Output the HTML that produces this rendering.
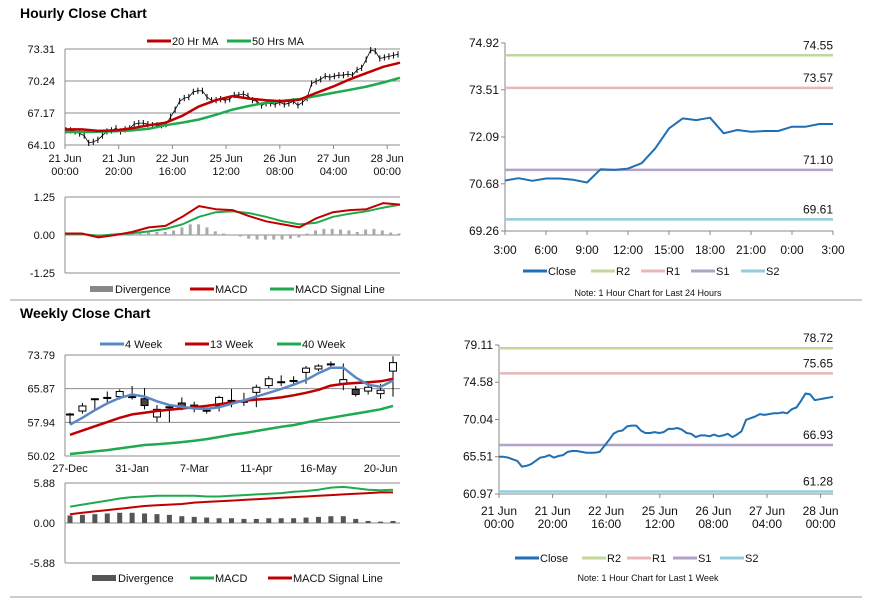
<!DOCTYPE html>
<html><head><meta charset="utf-8"><style>
body{margin:0;background:#fff}
svg{display:block;font-family:"Liberation Sans",sans-serif}
</style></head><body>
<svg id="s" width="873" height="601" viewBox="0 0 873 601">
<text x="20" y="18" font-size="14" font-weight="bold">Hourly Close Chart</text>
<text x="20" y="318" font-size="14" font-weight="bold">Weekly Close Chart</text>
<line x1="10" y1="300" x2="862" y2="300" stroke="#999"/>
<line x1="10" y1="597" x2="862" y2="597" stroke="#999"/>
</svg>
<script>
// ---------- data ----------
const hourlyClose=[65.5,65.5,65.4,65.2,65.0,64.3,64.4,64.6,65.0,65.4,65.5,65.7,65.4,65.6,65.7,66.1,66.2,66.2,66.1,66.0,66.0,66.0,66.1,66.8,67.5,68.3,68.6,68.7,69.2,69.3,69.3,68.7,68.4,68.4,68.5,68.4,68.5,68.9,68.9,69.0,68.8,68.4,68.3,67.9,68.1,68.1,68.0,68.2,68.0,68.1,68.3,67.9,68.2,68.6,70.0,70.2,70.4,70.7,70.6,70.7,70.8,70.8,70.9,70.8,71.3,71.5,72.3,73.2,73.1,72.4,72.5,72.6,72.7,72.8];
const ma20=[65.6,65.6,65.45,65.5,65.7,66.0,66.24,66.9,67.8,68.4,68.79,68.55,68.4,68.3,68.45,69.1,69.7,70.4,71.0,71.6,72.0];
const ma50=[65.35,65.35,65.38,65.42,65.5,65.65,66.0,66.25,66.55,67.0,67.5,67.85,68.15,68.35,68.5,68.8,69.1,69.4,69.7,70.1,70.55];
const hMacd=[0.05,0.05,-0.08,0.0,0.1,0.25,0.3,0.6,0.95,0.85,0.82,0.62,0.45,0.35,0.25,0.55,0.75,0.82,0.85,1.05,1.0];
const hSignal=[0.02,0.03,-0.02,0.02,0.06,0.12,0.2,0.35,0.6,0.75,0.78,0.72,0.6,0.45,0.35,0.4,0.6,0.7,0.78,0.9,1.0];
const hDiv=[0,0,0.02,0,-0.03,-0.02,0,0.02,0.04,0.06,0.08,0.1,0.1,0.15,0.25,0.35,0.35,0.25,0.12,0.05,0.02,-0.05,-0.12,-0.15,-0.15,-0.15,-0.15,-0.12,-0.08,0.05,0.15,0.2,0.2,0.18,0.15,0.1,0.18,0.2,0.15,0.08,0.05];
const hourlyTicks=[["21 Jun","00:00"],["21 Jun","20:00"],["22 Jun","16:00"],["25 Jun","12:00"],["26 Jun","08:00"],["27 Jun","04:00"],["28 Jun","00:00"]];
const dayClose=[70.78,70.85,70.77,70.84,70.84,70.8,70.72,71.12,71.1,71.14,71.3,71.75,72.35,72.65,72.6,72.67,72.2,72.3,72.25,72.27,72.27,72.4,72.4,72.48,72.48];
const dayTicks=["3:00","6:00","9:00","12:00","15:00","18:00","21:00","0:00","3:00"];
const dayLevels=[74.55,73.57,71.10,69.61];
const weekLevels=[78.72,75.65,66.93,61.28];
const wOpen=[59.8,60.6,63.5,63.8,64.0,64.0,63.5,59.2,61.6,62.5,62.0,60.8,61.8,63.1,62.9,65.0,66.6,67.5,67.8,69.7,70.5,71.7,67.0,65.7,65.3,64.7,70.0];
const wClose=[59.9,61.8,63.5,63.8,65.2,64.0,61.9,61.0,61.6,61.5,61.3,60.8,63.8,63.1,62.9,66.2,68.2,67.5,67.8,70.7,71.2,71.7,68.0,64.5,66.2,65.5,72.0];
const wHigh=[60.2,62.5,63.5,65.2,65.7,66.5,66.0,62.0,62.0,63.8,62.8,61.5,64.2,65.8,64.9,66.8,68.8,69.0,68.8,71.2,71.6,72.3,71.8,66.5,66.8,67.0,73.5];
const wLow=[57.5,60.0,61.0,62.7,63.3,63.3,61.0,58.0,58.0,60.8,60.3,60.0,60.5,61.5,61.8,61.5,66.0,66.5,66.5,67.0,70.0,71.0,65.5,64.0,64.5,63.5,64.0];
const wk4=[57.4,59.0,60.8,62.4,63.7,64.5,64.0,62.9,62.0,61.6,61.2,61.1,61.5,62.3,63.1,64.0,64.9,65.8,66.8,67.9,69.5,70.8,70.8,68.5,66.8,66.3,67.8];
const wk13=[55.0,56.0,57.0,58.0,59.0,59.8,60.2,60.6,60.9,61.2,61.5,61.8,62.2,62.6,63.0,63.3,63.5,63.8,64.3,64.9,65.6,66.6,67.0,67.2,67.4,67.6,68.2];
const wk40=[50.5,50.8,51.1,51.4,51.8,52.2,52.6,52.8,53.0,53.3,53.6,54.0,54.5,55.0,55.4,55.9,56.4,56.9,57.3,57.9,58.5,59.0,59.5,60.0,60.5,61.0,61.8];
const wMacd=[2.4,2.7,3.0,3.3,3.6,3.8,3.9,4.0,4.0,4.0,4.0,3.9,3.9,4.0,4.1,4.2,4.3,4.4,4.6,4.7,4.9,5.2,5.3,5.1,4.9,4.8,4.9];
const wSignal=[1.3,1.5,1.7,1.9,2.1,2.3,2.5,2.6,2.7,2.8,3.0,3.1,3.2,3.3,3.4,3.5,3.6,3.7,3.8,3.9,4.0,4.1,4.2,4.3,4.4,4.5,4.5];
const wDiv=[1.1,1.2,1.3,1.4,1.5,1.5,1.4,1.3,1.2,1.0,0.9,0.8,0.7,0.7,0.6,0.6,0.7,0.7,0.7,0.8,0.9,1.0,1.0,0.6,0.3,0.2,0.3];
const weekTicks=[[0,"27-Dec"],[5,"31-Jan"],[10,"7-Mar"],[15,"11-Apr"],[20,"16-May"],[25,"20-Jun"]];

const S=document.getElementById('s');
const NS='http://www.w3.org/2000/svg';
function mk(tag,at,txt){const e=document.createElementNS(NS,tag);for(const k in at)e.setAttribute(k,at[k]);if(txt!==undefined)e.textContent=txt;S.appendChild(e);return e;}
function lin(d0,d1,r0,r1){return v=>r0+(v-d0)/(d1-d0)*(r1-r0);}
function poly(arr,X,Y,col,w,name){const p=arr.map((v,i)=>X(i).toFixed(1)+','+Y(v).toFixed(1)).join(' ');const e=mk('polyline',{points:p,fill:'none',stroke:col,'stroke-width':w,'stroke-linejoin':'round'});

return e;}
function txt(x,y,s,anchor,size,name){const e=mk('text',{x:x,y:y,'font-size':size||11,'text-anchor':anchor||'start',fill:'#111'},s);

return e;}
function ln(x1,y1,x2,y2,col,w,name){const e=mk('line',{x1:x1,y1:y1,x2:x2,y2:y2,stroke:col,'stroke-width':w||1});

return e;}
function legend(items,y){items.forEach(it=>{ln(it[0],y,it[0]+24,y,it[2],it[3]||3,'legend-swatch');txt(it[0]+25,y+4,it[1],'start',11,'legend-entry');});}
const RED='#c00000',GRN='#1faa4f',BLUE='#5b87c5',DBLUE='#1f6fb4';

// ---------- hourly candles ----------
(function(){
 const X0=65,X1=400,Y=lin(64.10,73.31,145,49);
 [73.31,70.24,67.17,64.10].forEach(v=>{ln(X0,Y(v),X1,Y(v),'#8c8c8c',1,'gridline');txt(X0-10,Y(v)+4,v.toFixed(2),'end',11,'y-tick-label');});
 ln(X0,49,X0,145,'#8c8c8c',1,'y-axis');
 const X=lin(0,hourlyClose.length-1,X0+1,X1-2);
 hourlyTicks.forEach((t,i)=>{const x=X0+i*53.7;ln(x,145,x,149,'#8c8c8c',1,'x-tick');txt(x,162,t[0],'middle',11,'x-tick-label');txt(x,175,t[1],'middle',11,'x-tick-label');});
 hourlyClose.forEach((v,i)=>{const x=X(i);ln(x,Y(v+0.3),x,Y(v-0.3),'#000',1,'candle');});
 poly(hourlyClose,X,Y,'#000',0.8,'close-line');
 const XM=lin(0,ma20.length-1,X0,X1);
 poly(ma50,XM,Y,GRN,2.5,'ma50-line');poly(ma20,XM,Y,RED,2.5,'ma20-line');
 legend([[147,'20 Hr MA',RED],[227,'50 Hrs MA',GRN]],41);
 // MACD
 const YM=lin(-1.25,1.25,273,197);
 [1.25,0,-1.25].forEach(v=>{ln(X0,YM(v),X1,YM(v),'#8c8c8c',1,'gridline');txt(X0-10,YM(v)+4,v.toFixed(2),'end',11,'y-tick-label');});
 ln(X0,197,X0,273,'#8c8c8c',1,'y-axis');
 const XD=lin(0,hDiv.length-1,X0,X1-1);
 hDiv.forEach((d,i)=>{const x=XD(i);const b=mk('rect',{x:x-1.5,y:Math.min(YM(d),YM(0)),width:3,height:Math.max(Math.abs(YM(d)-YM(0)),0.5),fill:'#aaa'});
 
 });
 poly(hSignal,XM,YM,GRN,2,'macd-signal-line');poly(hMacd,XM,YM,RED,2,'macd-line');
 const lb=mk('rect',{x:90,y:286,width:23,height:6,fill:'#888'});
 
 
 txt(115,293,'Divergence','start',11,'legend-entry');
 legend([[190,'MACD',RED],[270,'MACD Signal Line',GRN]],289);
})();

// ---------- levels chart helper ----------
function levelChart(o){
 const Y=lin(o.min,o.max,o.yb,o.yt);
 ln(o.x0,o.yt,o.x0,o.yb,'#888',1,'y-axis');ln(o.x0,o.yb,o.x1,o.yb,'#888',1,'x-axis');
 o.ticks.forEach(v=>{ln(o.x0-4,Y(v),o.x0,Y(v),'#888',1,'y-tick');txt(o.x0-6,Y(v)+4,v.toFixed(2),'end',12,'y-tick-label');});
 const cols=['#c3d69b','#e6b9b8','#b3a2c7','#93cddd'];
 o.levels.forEach((v,i)=>{ln(o.x0,Y(v),o.x1,Y(v),cols[i],2.5,'level-line');txt(o.x1,Y(v)-6,v.toFixed(2),'end',12,'level-label');});
 const X=lin(0,o.data.length-1,o.x0,o.x1);
 poly(o.data,X,Y,DBLUE,2,'close-line');
 return {Y:Y,cols:cols};
}
// right top
(function(){
 const r=levelChart({x0:505,x1:833,yt:43,yb:231,min:69.26,max:74.92,ticks:[74.92,73.51,72.09,70.68,69.26],levels:dayLevels,data:dayClose});
 dayTicks.forEach((t,i)=>{const x=505+i*41;ln(x,231,x,235,'#888',1,'x-tick');txt(x,254,t,'middle',12,'x-tick-label');});
 legend([[523,'Close',DBLUE],[591,'R2',r.cols[0]],[641,'R1',r.cols[1]],[691,'S1',r.cols[2]],[741,'S2',r.cols[3]]],271);
 txt(648,296,'Note: 1 Hour Chart for Last 24 Hours','middle',9,'chart-note');
})();
// right bottom
(function(){
 const r=levelChart({x0:499,x1:833,yt:345,yb:494,min:60.97,max:79.11,ticks:[79.11,74.58,70.04,65.51,60.97],levels:weekLevels,data:hourlyClose});
 hourlyTicks.forEach((t,i)=>{const x=499+i*53.6;ln(x,494,x,498,'#888',1,'x-tick');txt(x,515,t[0],'middle',12,'x-tick-label');txt(x,528,t[1],'middle',12,'x-tick-label');});
 legend([[515,'Close',DBLUE],[582,'R2',r.cols[0]],[627,'R1',r.cols[1]],[673,'S1',r.cols[2]],[720,'S2',r.cols[3]]],558);
 txt(648,581,'Note: 1 Hour Chart for Last 1 Week','middle',9,'chart-note');
})();

// ---------- weekly ----------
(function(){
 const X0=65,X1=400,Y=lin(50.02,73.79,456,355);
 [73.79,65.87,57.94,50.02].forEach(v=>{ln(X0,Y(v),X1,Y(v),'#8c8c8c',1,'gridline');txt(X0-10,Y(v)+4,v.toFixed(2),'end',11,'y-tick-label');});
 ln(X0,355,X0,456,'#8c8c8c',1,'y-axis');
 const X=lin(0,wOpen.length-1,70,393);
 weekTicks.forEach(t=>{txt(X(t[0]),472,t[1],'middle',11,'x-tick-label');});
 wOpen.forEach((o,i)=>{const c=wClose[i],x=X(i);ln(x,Y(wHigh[i]),x,Y(wLow[i]),'#000',1,'candle-wick');
  const top=Math.max(o,c),bot=Math.min(o,c);const h=Math.max(Y(bot)-Y(top),1);
  const b=mk('rect',{x:x-3.5,y:Y(top),width:7,height:h,fill:c<o?'#444':'#fff',stroke:'#000','stroke-width':1});
  
  });
 poly(wk40,X,Y,GRN,2.5,'week40-line');poly(wk13,X,Y,RED,2.5,'week13-line');poly(wk4,X,Y,BLUE,2.5,'week4-line');
 legend([[100,'4 Week',BLUE],[185,'13 Week',RED],[277,'40 Week',GRN]],344);
 const YM=lin(-5.88,5.88,563,483);
 [5.88,0,-5.88].forEach(v=>{ln(X0,YM(v),X1,YM(v),'#8c8c8c',1,'gridline');txt(X0-10,YM(v)+4,v.toFixed(2),'end',11,'y-tick-label');});
 ln(X0,483,X0,563,'#8c8c8c',1,'y-axis');
 wDiv.forEach((d,i)=>{const b=mk('rect',{x:X(i)-2.5,y:YM(d),width:5,height:YM(0)-YM(d),fill:'#555'});
  
  });
 poly(wMacd,X,YM,GRN,2,'macd-line');poly(wSignal,X,YM,RED,2,'macd-signal-line');
 const lb=mk('rect',{x:92,y:575,width:24,height:6,fill:'#555'});
 
 
 txt(118,582,'Divergence','start',11,'legend-entry');
 legend([[190,'MACD',GRN],[268,'MACD Signal Line',RED]],578);
})();
</script>
</body></html>
